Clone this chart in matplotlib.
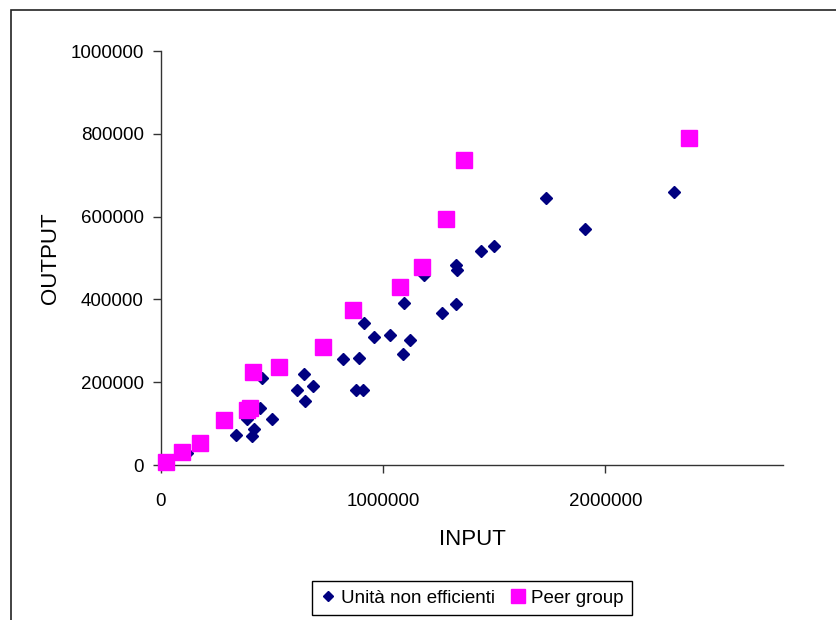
import matplotlib
matplotlib.use('Agg')
import matplotlib.pyplot as plt
from matplotlib.patches import Rectangle
from matplotlib.ticker import FixedLocator, FormatStrFormatter

# font tipo Arial
font_fam = ['Liberation Sans', 'DejaVu Sans']

# dati: unità non efficienti
ne_input = [115000, 338000, 389000, 411000, 419000, 445000, 454000, 499000,
            611000, 645000, 649000, 686000, 820000, 890000, 878000, 909000,
            915000, 958000, 1032000, 1088000, 1092000, 1123000, 1186000,
            1266000, 1327000, 1332000, 1326000, 1441000, 1500000, 1734000,
            1909000, 2309000]
ne_output = [29000, 72000, 111000, 69000, 88000, 137000, 210000, 111000,
             180000, 221000, 154000, 190000, 256000, 259000, 181000, 180000,
             343000, 309000, 314000, 267000, 392000, 301000, 459000,
             366000, 482000, 471000, 390000, 517000, 529000, 645000,
             569000, 659000]

# dati: peer group
pg_input = [22000, 93000, 175000, 282000, 385000, 400000, 412000, 530000,
            731000, 866000, 1078000, 1177000, 1282000, 1364000, 2376000]
pg_output = [8000, 31000, 52000, 108000, 133000, 137000, 224000, 236000,
             285000, 375000, 429000, 478000, 594000, 737000, 790000]

x_ticks = [0, 1000000, 2000000]
y_ticks = [0, 200000, 400000, 600000, 800000, 1000000]

fig = plt.figure(figsize=(8.36, 6.2), dpi=100)
ax = fig.add_axes([161/836, 1 - 465/620, (783 - 161)/836, (465 - 51)/620])

ax.plot(ne_input, ne_output, linestyle='none', marker='D', markersize=6.2,
        color='#000080', label='Unità non efficienti', zorder=3)
ax.plot(pg_input, pg_output, linestyle='none', marker='s', markersize=11.5,
        color='#FF00FF', label='Peer group', zorder=4, clip_on=False)

ax.set_xlim(0, 2800000)
ax.set_ylim(0, 1000000)
ax.xaxis.set_major_locator(FixedLocator(x_ticks))
ax.yaxis.set_major_locator(FixedLocator(y_ticks))
ax.xaxis.set_major_formatter(FormatStrFormatter('%d'))
ax.yaxis.set_major_formatter(FormatStrFormatter('%d'))

for s in ['top', 'right']:
    ax.spines[s].set_visible(False)
for s in ['left', 'bottom']:
    ax.spines[s].set_linewidth(1.0)
    ax.spines[s].set_color('#333333')

ax.tick_params(axis='both', direction='out', length=5.5, width=1.0, color='#333333')
ax.tick_params(axis='x', pad=15)
ax.tick_params(axis='y', pad=7)
for lab in ax.get_xticklabels() + ax.get_yticklabels():
    lab.set_family(font_fam)
    lab.set_fontsize(13.5)

ax.set_xlabel('INPUT', family=font_fam, fontsize=16, labelpad=13)
ax.set_ylabel('OUTPUT', family=font_fam, fontsize=16, labelpad=6.5)

leg = ax.legend(loc='center', bbox_to_anchor=(472/836, 1 - 598/620),
                bbox_transform=fig.transFigure, ncol=2, frameon=True,
                fancybox=False, edgecolor='black', framealpha=1,
                prop={'family': font_fam, 'size': 13.5},
                handlelength=0.8, handletextpad=0.3, columnspacing=0.8,
                borderpad=0.45)
leg.get_frame().set_linewidth(1.0)
leg.legend_handles[0].set_markersize(5.5)
leg.legend_handles[1].set_markersize(10.5)

# cornice esterna del grafico
fig.patches.append(Rectangle((11/836, -0.1), 1.2, 1 - 10/620 + 0.1,
                             transform=fig.transFigure, fill=False,
                             edgecolor='#222222', linewidth=1.2))

fig.savefig('out.png', dpi=100)
